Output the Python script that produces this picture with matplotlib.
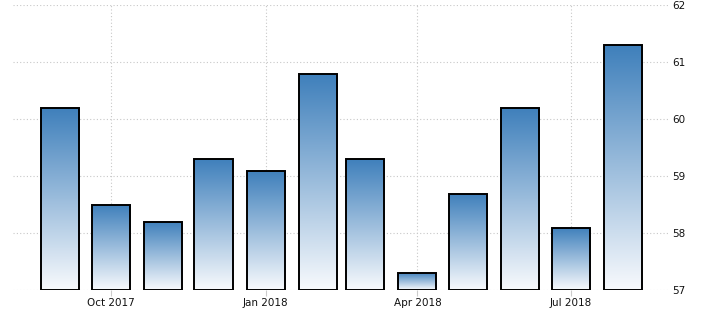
import datetime as dt
import matplotlib
matplotlib.use("Agg")
import matplotlib.pyplot as plt
import matplotlib.dates as mdates
import numpy as np
from matplotlib.colors import LinearSegmentedColormap

# monthly values, bars sit on the first of each month
months = ["2017-09", "2017-10", "2017-11", "2017-12", "2018-01", "2018-02",
          "2018-03", "2018-04", "2018-05", "2018-06", "2018-07", "2018-08"]
values = [60.2, 58.5, 58.2, 59.3, 59.1, 60.8, 59.3, 57.3, 58.7, 60.2, 58.1, 61.3]
tick_months = ["2017-10", "2018-01", "2018-04", "2018-07"]
tick_labels = ["Oct 2017", "Jan 2018", "Apr 2018", "Jul 2018"]
y_ticks = [57, 58, 59, 60, 61, 62]

dates = [dt.datetime.strptime(m, "%Y-%m") for m in months]
x = mdates.date2num(dates)
ymin, ymax = 57, 62

fig = plt.figure(figsize=(7.04, 3.13), dpi=100)
ax = fig.add_axes([0.0185, 0.072, 0.931, 0.911])

cmap = LinearSegmentedColormap.from_list("fade", ["#f8fafd", "#3e7fbb"])
grad = np.linspace(0, 1, 256).reshape(-1, 1)

width = 22.6  # days
bars = ax.bar(x, [v - ymin for v in values], bottom=ymin, width=width,
              facecolor="none", edgecolor="black", linewidth=1.4, zorder=3)
for b, v in zip(bars, values):
    x0 = b.get_x()
    im = ax.imshow(grad, aspect="auto", cmap=cmap, origin="lower",
                   extent=[x0, x0 + width, ymin, v], zorder=2,
                   interpolation="bilinear")
    im.set_clip_path(b)

ax.set_xlim(mdates.date2num(dt.datetime(2017, 8, 4)),
            mdates.date2num(dt.datetime(2018, 8, 28)))
ax.set_ylim(ymin, ymax)

tick_x = mdates.date2num([dt.datetime.strptime(m, "%Y-%m") for m in tick_months])
ax.set_xticks(tick_x)
ax.set_xticklabels(tick_labels)
ax.set_yticks(y_ticks)
ax.yaxis.tick_right()

for s in ax.spines.values():
    s.set_visible(False)

ax.grid(True, color="#c8c8c8", linestyle=(0, (1, 2)), linewidth=0.8, zorder=0)
ax.tick_params(axis="x", length=4, color="#cccccc", labelsize=7.5,
               labelcolor="#111111", pad=1.5)
ax.tick_params(axis="y", length=0, labelsize=7.5, labelcolor="#111111", pad=3)

fig.savefig("out.png", dpi=100)
